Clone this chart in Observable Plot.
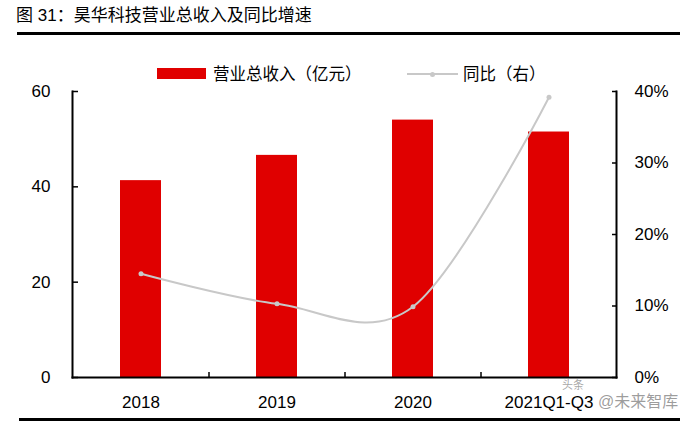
<!DOCTYPE html>
<html><head><meta charset="utf-8">
<script src="https://cdn.jsdelivr.net/npm/d3@7"></script>
<script src="https://cdn.jsdelivr.net/npm/@observablehq/plot@0.6"></script>
<style>
body{margin:0;background:#fff;font-family:"Liberation Sans","Noto Sans CJK SC",sans-serif;color:#000;}
#wrap{position:relative;width:689px;height:422px;overflow:hidden;background:#fff;}
.abs{position:absolute;white-space:nowrap;}
</style></head><body><div id="wrap">
<div class="abs" style="left:16px;top:5px;font-size:17px;line-height:22px;">图 31：昊华科技营业总收入及同比增速</div>
<div class="abs" style="left:17px;top:32px;width:663px;height:2.5px;background:#000"></div>
<div class="abs" style="left:157px;top:68px;width:49px;height:11px;background:#e00000"></div>
<div class="abs" style="left:213px;top:63px;font-size:16.5px;line-height:22px;">营业总收入（亿元）</div>
<div class="abs" style="left:407px;top:73px;width:51px;height:2px;background:#c8c8c8"></div>
<div class="abs" style="left:429.5px;top:71.5px;width:5px;height:5px;border-radius:50%;background:#c8c8c8"></div>
<div class="abs" style="left:463px;top:63px;font-size:16.5px;line-height:22px;">同比（右）</div>
<div id="chart" class="abs" style="left:0;top:82px"></div>
<div class="abs" style="left:19px;top:418px;width:661px;height:3px;background:#000"></div>
<div class="abs" style="left:562px;top:379px;font-size:11px;line-height:13px;color:rgba(90,90,90,0.55);">头条</div>
<div class="abs" style="left:598px;top:391px;font-size:16px;line-height:22px;color:rgba(90,90,90,0.6);">@未来智库</div>
</div>
<script>
const years = ["2018", "2019", "2020", "2021Q1-Q3"];
const revenue = [41.3, 46.6, 54.0, 51.5];
const yoy = [14.5, 10.3, 9.9, 39.2];
const leftTicks = [0, 20, 40, 60];
const rightTicks = [0, 10, 20, 30, 40];

const W = 689, H = 332, ML = 72, MR = 73, MT = 9, MB = 37;
const ratio = 60 / 40;
const step = (W - ML - MR) / years.length;
const rows = years.map((y, i) => ({year: y, rev: revenue[i], yoy: yoy[i] * ratio}));

const chart = Plot.plot({
  width: W, height: H,
  marginLeft: ML, marginRight: MR, marginTop: MT, marginBottom: MB,
  style: {fontFamily: '"Liberation Sans", Arial, sans-serif', fontSize: "17px", color: "#000", background: "#fff"},
  x: {domain: years, paddingInner: 0.7, paddingOuter: 0.35},
  y: {domain: [0, 60]},
  marks: [
    Plot.barY(rows, {x: "year", y: "rev", fill: "#e00000"}),
    Plot.line(rows, {x: "year", y: "yoy", curve: "cardinal", tension: 0, stroke: "#c8c8c8", strokeWidth: 2}),
    Plot.dot(rows, {x: "year", y: "yoy", r: 2.5, fill: "#c8c8c8"}),
    Plot.axisY(leftTicks, {anchor: "left", tickSize: -6, tickPadding: 28, stroke: "#000", strokeWidth: 1.5, fill: "#000", label: null}),
    Plot.axisY(rightTicks.map(v => v * ratio), {anchor: "right", tickSize: -5, tickPadding: 23, tickFormat: v => `${Math.round(v / ratio)}%`, stroke: "#000", strokeWidth: 1.5, fill: "#000", label: null}),
    Plot.axisX(years, {anchor: "bottom", tickSize: 0, tickPadding: 18, fill: "#000", label: null}),
    Plot.axisX(years.slice(1), {anchor: "bottom", tickSize: -5, tickFormat: () => "", dx: -step / 2, stroke: "#000", strokeWidth: 1.5, label: null}),
    Plot.frame({anchor: "left", stroke: "#000", strokeWidth: 2}),
    Plot.frame({anchor: "right", stroke: "#000", strokeWidth: 2}),
    Plot.frame({anchor: "bottom", stroke: "#000", strokeWidth: 2})
  ]
});
document.getElementById("chart").appendChild(chart);
</script>
</body></html>
